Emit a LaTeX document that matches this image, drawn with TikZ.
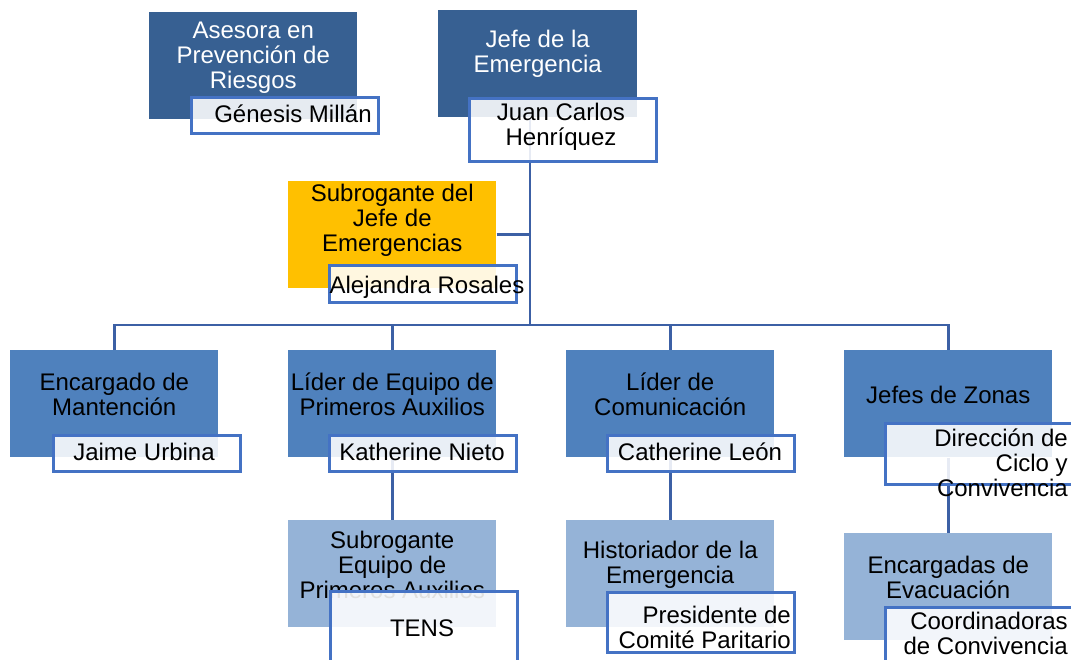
\documentclass[tikz,border=0pt]{standalone}
\usepackage{fontspec}
\setmainfont{Liberation Sans}
\usetikzlibrary{positioning,backgrounds}

\definecolor{topblue}{RGB}{55,96,146}
\definecolor{midblue}{RGB}{79,129,189}
\definecolor{lowblue}{RGB}{149,179,215}
\definecolor{gold}{RGB}{255,192,0}
\definecolor{edgeblue}{RGB}{68,114,196}
\definecolor{linkblue}{RGB}{60,96,165}

\tikzset{
  rolebox/.style={rectangle, anchor=north west, inner sep=0pt,
    minimum width=156pt, minimum height=80.25pt},
  namebox/.style={rectangle, anchor=north west, inner sep=0pt,
    draw=edgeblue, line width=1.9pt, fill=white, fill opacity=0.88,
    minimum width=140.25pt, minimum height=27pt},
  boxtext/.style={align=center, inner sep=0pt,
    font=\fontsize{18}{18.75}\selectfont},
  link/.style={draw=linkblue, line width=2.1pt}
}

\begin{document}
\begin{tikzpicture}[x=0.75pt,y=-0.75pt]

    \useasboundingbox (0,0) rectangle (1071,660);
    \clip (0,0) rectangle (1071,660);

    % Top level
    \node[rolebox, fill=topblue] (asesora) at (149,12) {};
    \node[rolebox, fill=topblue, minimum width=149.25pt] (jefe) at (438,10) {};
    \node[rolebox, fill=gold] (subrogante) at (288,181) {};

    % Second level
    \node[rolebox, fill=midblue] (mantencion) at (10,350) {};
    \node[rolebox, fill=midblue] (auxilios) at (288,350) {};
    \node[rolebox, fill=midblue] (comunicacion) at (566,350) {};
    \node[rolebox, fill=midblue] (zonas) at (844,350) {};

    % Third level
    \node[rolebox, fill=lowblue] (subequipo) at (288,520) {};
    \node[rolebox, fill=lowblue] (historiador) at (566,520) {};
    \node[rolebox, fill=lowblue] (evacuacion) at (844,533) {};

    % Role titles
    \node[boxtext, text=white] (asesoratxt) at ([yshift=-34pt]asesora.north) {Asesora en\\Prevención de\\Riesgos};
    \node[boxtext, text=white] (jefetxt) at ([yshift=-33pt]jefe.north) {Jefe de la\\Emergencia};
    \node[boxtext] (subrogantetxt) at ([yshift=-29.25pt]subrogante.north) {Subrogante del\\Jefe de\\Emergencias};
    \node[boxtext] (mantenciontxt) at ([yshift=-33pt]mantencion.north) {Encargado de\\Mantención};
    \node[boxtext] (auxiliostxt) at ([yshift=-33pt]auxilios.north) {Líder de Equipo de\\Primeros Auxilios};
    \node[boxtext] (comunicaciontxt) at ([yshift=-33pt]comunicacion.north) {Líder de\\Comunicación};
    \node[boxtext] (zonastxt) at ([yshift=-33.75pt]zonas.north) {Jefes de Zonas};
    \node[boxtext] (subequipotxt) at ([yshift=-33.75pt]subequipo.north) {Subrogante\\Equipo de\\Primeros Auxilios};
    \node[boxtext] (historiadortxt) at ([yshift=-33.4pt]historiador.north) {Historiador de la\\Emergencia};
    \node[boxtext] (evacuaciontxt) at ([yshift=-33pt]evacuacion.north) {Encargadas de\\Evacuación};

    % Name boxes
    \node[namebox] (genesis) at (190,96) {};
    \node[namebox, minimum height=47.25pt] (juan) at (468,97) {};
    \node[namebox, minimum height=27.75pt] (alejandra) at (328,264) {};
    \node[namebox] (jaime) at (52,434) {};
    \node[namebox] (katherine) at (328,434) {};
    \node[namebox] (catherine) at (606,434) {};
    \node[namebox, minimum width=142.5pt, minimum height=45.75pt] (direccion) at (884,422) {};
    \node[namebox, minimum height=70pt] (tens) at (329,590) {};
    \node[namebox, minimum height=45pt] (presidente) at (606,591) {};
    \node[namebox, minimum width=142.5pt, minimum height=52pt] (coordinadoras) at (884,606) {};

    % Names
    \node[boxtext] (genesistxt) at (293,114) {Génesis Millán};
    \node[boxtext] (juantxt) at (561,127) {Juan Carlos\\Henríquez};
    \node[boxtext] (alejandratxt) at (427,287) {Alejandra Rosales};
    \node[boxtext] (jaimetxt) at (144,452) {Jaime Urbina};
    \node[boxtext] (katherinetxt) at (422,452) {Katherine Nieto};
    \node[boxtext] (catherinetxt) at (700,452) {Catherine León};
    \node[boxtext, align=right, anchor=east] (direcciontxt) at (1068,463) {Dirección de\\Ciclo y\\Convivencia};
    \node[boxtext] (tenstxt) at (422,628) {TENS};
    \node[boxtext, align=right, anchor=east] (presidentetxt) at (791,627.5) {Presidente de\\Comité Paritario};
    \node[boxtext, align=right, anchor=east] (coordinadorastxt) at (1068,633.5) {Coordinadoras\\de Convivencia};

    % Connectors
    \coordinate (hub) at (530,325);
    \begin{scope}[on background layer]
        \draw[link] (jefe.south -| hub) -- (hub);
        \draw[link] (subrogante.east) -- (subrogante.east -| hub);
        \draw[link] (mantencion.north) |- (hub) -| (zonas.north);
        \draw[link] (auxilios.north) -- (auxilios.north |- hub);
        \draw[link] (comunicacion.north) -- (comunicacion.north |- hub);
        \draw[link] (auxilios.south) -- (subequipo.north);
        \draw[link] (comunicacion.south) -- (historiador.north);
        \draw[link] (zonas.south) -- (evacuacion.north);
    \end{scope}

\end{tikzpicture}
\end{document}
